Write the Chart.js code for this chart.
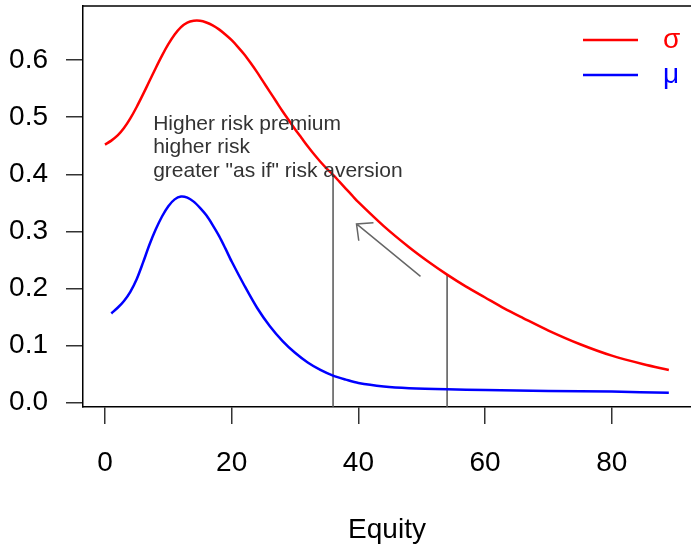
<!DOCTYPE html>
<html>
<head>
<meta charset="utf-8">
<script src="https://cdn.jsdelivr.net/npm/chart.js@4.4.1/dist/chart.umd.min.js"></script>
<style>
  body { margin: 0; background: #fff; }
</style>
</head>
<body>
<canvas id="myChart" width="691" height="547"></canvas>
<script>
// sigma curve (red)
const sigmaX = [0, 1, 2, 3, 4, 5, 6, 7, 8, 9, 10, 11, 12, 13, 14, 15, 16, 17, 18, 19, 20, 21, 22, 23, 24, 25, 26, 27, 28, 29, 30,
                31, 32, 33, 34, 35, 36, 37, 38, 39, 40, 44, 48, 51, 54, 57, 60, 63, 66, 70, 75, 80, 85, 89];
const sigmaY = [0.452, 0.459, 0.468, 0.481, 0.498, 0.518, 0.540, 0.563, 0.586, 0.608, 0.628, 0.645, 0.658, 0.666, 0.669, 0.669,
                0.666, 0.661, 0.654, 0.645, 0.635, 0.623, 0.610, 0.595, 0.579, 0.562, 0.545, 0.528, 0.511, 0.495, 0.479,
                0.464, 0.449, 0.435, 0.422, 0.410, 0.399, 0.387, 0.375, 0.363, 0.351, 0.309, 0.272, 0.247, 0.224, 0.203,
                0.184, 0.165, 0.148, 0.126, 0.102, 0.082, 0.067, 0.057];

// mu curve (blue)
const muX = [1, 2, 3, 4, 5, 6, 7, 8, 9, 10, 11, 12, 13, 14, 15, 16, 17, 18, 19, 20, 22, 24, 26, 28, 30, 32, 34, 36, 38, 40,
             44, 48, 54, 60, 70, 80, 89];
const muY = [0.156, 0.166, 0.178, 0.194, 0.216, 0.245, 0.276, 0.303, 0.326, 0.344, 0.356, 0.361, 0.359, 0.352, 0.341, 0.328,
             0.311, 0.292, 0.270, 0.247, 0.205, 0.166, 0.134, 0.108, 0.087, 0.070, 0.057, 0.047, 0.040, 0.034,
             0.028, 0.025, 0.023, 0.022, 0.020, 0.019, 0.017];

const xTicks = [0, 20, 40, 60, 80];
const yTicks = [0, 0.1, 0.2, 0.3, 0.4, 0.5, 0.6];

// vertical lines dropped from the sigma curve, and the arrow between them
const markerX = [36, 54];
const arrowFrom = [49.8, 0.221];
const arrowTo = [39.7, 0.313];

const noteLines = ['Higher risk premium', 'higher risk', 'greater "as if" risk aversion'];
const noteAt = [7.6, 0.478];
const legendLabels = ['σ', 'μ'];
const legendColors = ['#ff0000', '#0000ff'];

const xMin = -3.47, xMax = 92.5;
const yMin = -0.008, yMax = 0.695;
const fontFamily = '"Liberation Sans", Arial, sans-serif';

function points(xs, ys) {
    return xs.map((x, i) => ({ x: x, y: ys[i] }));
}

var datasets = [
    { label: 'σ', data: points(sigmaX, sigmaY), borderColor: legendColors[0], borderWidth: 2.5,
      pointRadius: 0, tension: 0.3, fill: false },
    { label: 'μ', data: points(muX, muY), borderColor: legendColors[1], borderWidth: 2.5,
      pointRadius: 0, tension: 0.3, fill: false }
];
markerX.forEach(x => {
    let top = sigmaY[sigmaX.indexOf(x)];
    datasets.push({ data: [{ x: x, y: top }, { x: x, y: yMin }], borderColor: '#555',
        borderWidth: 1.5, pointRadius: 0, fill: false });
});

// frame top, arrow, note text, legend
const extras = {
    id: 'extras',
    afterDatasetsDraw(chart) {
        const ctx = chart.ctx;
        const area = chart.chartArea;
        const xs = chart.scales.x, ys = chart.scales.y;
        ctx.save();

        ctx.strokeStyle = '#000';
        ctx.lineWidth = 1.5;
        ctx.beginPath();
        ctx.moveTo(area.left, area.top);
        ctx.lineTo(area.right, area.top);
        ctx.stroke();

        // arrow
        let x1 = xs.getPixelForValue(arrowFrom[0]), y1 = ys.getPixelForValue(arrowFrom[1]);
        let x2 = xs.getPixelForValue(arrowTo[0]), y2 = ys.getPixelForValue(arrowTo[1]);
        let ang = Math.atan2(y1 - y2, x1 - x2);
        ctx.strokeStyle = '#666';
        ctx.lineWidth = 1.5;
        ctx.beginPath();
        ctx.moveTo(x1, y1);
        ctx.lineTo(x2, y2);
        ctx.moveTo(x2 + 17 * Math.cos(ang - 0.75), y2 + 17 * Math.sin(ang - 0.75));
        ctx.lineTo(x2, y2);
        ctx.lineTo(x2 + 17 * Math.cos(ang + 0.75), y2 + 17 * Math.sin(ang + 0.75));
        ctx.stroke();

        // note
        ctx.fillStyle = '#333';
        ctx.font = '21px ' + fontFamily;
        ctx.textAlign = 'left';
        ctx.textBaseline = 'alphabetic';
        let nx = xs.getPixelForValue(noteAt[0]), ny = ys.getPixelForValue(noteAt[1]);
        noteLines.forEach((t, i) => ctx.fillText(t, nx, ny + i * 23.5));

        // legend
        ctx.font = '28px ' + fontFamily;
        legendLabels.forEach((t, i) => {
            let ly = area.top + 34 + i * 35;
            ctx.strokeStyle = legendColors[i];
            ctx.lineWidth = 2.5;
            ctx.beginPath();
            ctx.moveTo(area.right - 108, ly);
            ctx.lineTo(area.right - 53, ly);
            ctx.stroke();
            ctx.fillStyle = legendColors[i];
            ctx.fillText(t, area.right - 28, ly + 8);
        });
        ctx.restore();
    }
};

var chrt = document.getElementById('myChart');
var chart = new Chart(chrt, {
    type: 'line',
    data: { datasets: datasets },
    options: {
        responsive: false,
        animation: false,
        layout: { padding: { top: 6, right: 0, left: 0, bottom: 0 } },
        plugins: { legend: { display: false }, tooltip: { enabled: false } },
        scales: {
            x: {
                type: 'linear', min: xMin, max: xMax,
                afterBuildTicks: s => { s.ticks = xTicks.map(v => ({ value: v })); },
                afterFit: s => { s.height = 140; s.paddingLeft = 0; s.paddingRight = 0; },
                grid: { drawOnChartArea: false, tickLength: 17, color: '#333', lineWidth: 1.5 },
                border: { color: '#000', width: 1.5 },
                ticks: { color: '#000', padding: 22, maxRotation: 0,
                         font: { family: fontFamily, size: 28 }, callback: v => String(v) },
                title: { display: true, text: 'Equity', color: '#000',
                         font: { family: fontFamily, size: 28 }, padding: { top: 0, bottom: 0 } }
            },
            y: {
                type: 'linear', min: yMin, max: yMax,
                afterBuildTicks: s => { s.ticks = yTicks.map(v => ({ value: v })); },
                afterFit: s => { s.width = 83; s.paddingTop = 0; s.paddingBottom = 0; },
                grid: { drawOnChartArea: false, tickLength: 17, color: '#333', lineWidth: 1.5 },
                border: { color: '#000', width: 1.5 },
                ticks: { color: '#000', padding: 18,
                         font: { family: fontFamily, size: 28 }, callback: v => v.toFixed(1) }
            }
        }
    },
    plugins: [extras]
});
</script>
</body>
</html>
